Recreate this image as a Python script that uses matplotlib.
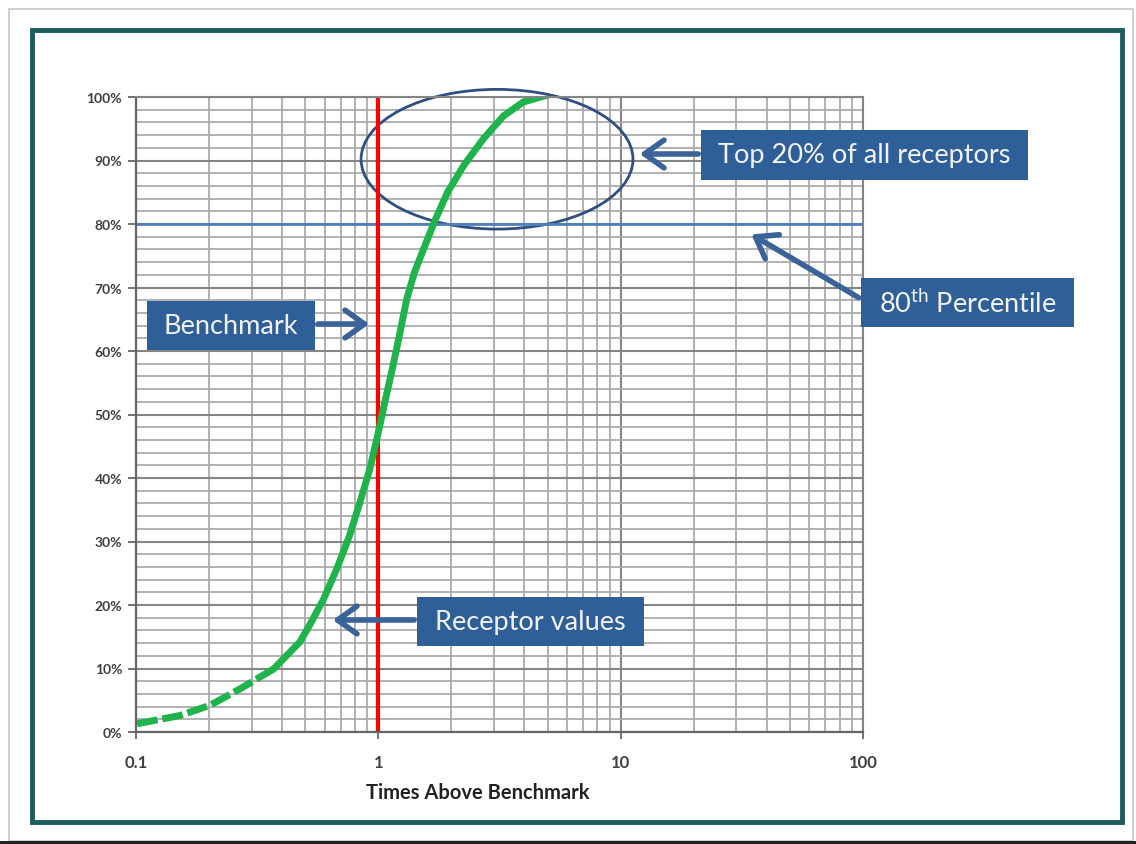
import numpy as np
import matplotlib.pyplot as plt
from matplotlib.patches import Rectangle, Ellipse, FancyArrowPatch
from matplotlib.ticker import FixedLocator, NullFormatter, LogLocator

plt.rcParams['mathtext.fontset'] = 'custom'
plt.rcParams['mathtext.rm'] = 'Lato'

# receptor values: times above benchmark vs cumulative percent
times_above = [0.101, 0.152, 0.202, 0.269, 0.369, 0.475, 0.52, 0.594, 0.674,
               0.76, 0.84, 0.922, 1.0, 1.07, 1.15, 1.23, 1.31, 1.41, 1.535,
               1.71, 1.93, 2.25, 2.71, 3.28, 3.96, 4.98]
percent = [1.3, 2.6, 4.2, 6.8, 9.9, 14.2, 16.8, 20.9, 25.7,
           30.9, 36.2, 41.4, 47.2, 52.4, 57.7, 63, 68.2, 72.4, 76,
           80.5, 85, 89.2, 93.4, 97, 99.2, 100.3]
n_dashed = 4  # low tail is drawn with visible gaps

benchmark = 1.0
percentile_80 = 80
y_ticks = [0, 10, 20, 30, 40, 50, 60, 70, 80, 90, 100]
x_ticks = [0.1, 1, 10, 100]
x_ticklabels = ['0.1', '1', '10', '100']

W, H = 1136, 845


def px(x, y):
    # pixel position (from top-left) -> figure fraction
    return x / W, 1 - y / H


fig = plt.figure(figsize=(W / 100, H / 100), dpi=100)
fig.patch.set_facecolor('white')

# picture frame
fig.patches.append(Rectangle(px(9, 842), 1124 / W, 832 / H, transform=fig.transFigure,
                             fill=False, edgecolor='#c8c8c8', lw=1.2))
fig.patches.append(Rectangle(px(32, 823), 1090 / W, 792 / H, transform=fig.transFigure,
                             fill=False, edgecolor='#1d5c5c', lw=3.5))
fig.patches.append(Rectangle((0, 0), 1, 3 / H, transform=fig.transFigure,
                             facecolor='#222222', edgecolor='none'))

left, bottom = px(136, 733)
ax = fig.add_axes([left, bottom, (863 - 136) / W, (733 - 98) / H])
ax.set_xscale('log')
ax.set_xlim(0.1, 100)
ax.set_ylim(0, 100)

# grid
ax.yaxis.set_minor_locator(FixedLocator(np.arange(0, 101, 2)))
ax.xaxis.set_minor_locator(LogLocator(base=10, subs=np.arange(2, 10)))
ax.xaxis.set_minor_formatter(NullFormatter())
ax.grid(which='minor', color='#ababab', lw=1.3)
ax.grid(which='major', color='#858585', lw=1.5)
ax.set_axisbelow(True)
ax.tick_params(which='minor', length=0)

ax.set_yticks(y_ticks)
ax.set_yticklabels([f'{v}%' for v in y_ticks])
ax.set_xticks(x_ticks)
ax.set_xticklabels(x_ticklabels)
ax.tick_params(axis='y', which='major', length=6, width=1.3, color='#666666', pad=4,
               labelsize=10, labelcolor='#404040')
ax.tick_params(axis='x', which='major', length=5, width=1.3, color='#666666', pad=11,
               labelsize=12, labelcolor='#404040')
for lab in ax.get_yticklabels() + ax.get_xticklabels():
    lab.set_fontweight('bold')
    lab.set_family('Lato')

for s in ['left', 'bottom']:
    ax.spines[s].set_color('#666666')
    ax.spines[s].set_linewidth(1.6)
for s in ['top', 'right']:
    ax.spines[s].set_color('#858585')
    ax.spines[s].set_linewidth(1.5)

ax.set_xlabel('Times Above Benchmark', fontsize=14.5, fontweight='bold', family='Lato',
              color='#222222')
ax.xaxis.set_label_coords(0.47, -0.078)

# lines
ax.axhline(percentile_80, color='#4f7fbf', lw=2)
ax.axvline(benchmark, color='#ff0000', lw=3)
green = '#1fb34b'
ax.plot(times_above[:n_dashed + 1], percent[:n_dashed + 1], color=green, lw=5,
        dashes=(3, 0.7))
ax.plot(times_above[n_dashed:], percent[n_dashed:], color=green, lw=5,
        solid_capstyle='round', solid_joinstyle='round')

# ellipse around top 20%
ax.add_patch(Ellipse((0.4966, 0.902), 0.374, 0.22, transform=ax.transAxes, fill=False,
                     edgecolor='#2f4f80', lw=2, clip_on=False))

box_color = '#2f5f98'
arrow_color = '#3a6499'


def label_box(x0, y0, x1, y1, text, size=19.5):
    fig.patches.append(Rectangle(px(x0, y1), (x1 - x0) / W, (y1 - y0) / H,
                                 transform=fig.transFigure, facecolor=box_color,
                                 edgecolor='none'))
    cx, cy = px((x0 + x1) / 2, (y0 + y1) / 2)
    fig.text(cx, cy, text, ha='center', va='center', color='#f2f2f2', fontsize=size,
             family='Lato')


def arrow(x0, y0, x1, y1):
    fig.patches.append(FancyArrowPatch(px(x0, y0), px(x1, y1), transform=fig.transFigure,
                                       arrowstyle='->,head_length=0.7,head_width=0.5',
                                       color=arrow_color, lw=4, mutation_scale=20))


label_box(701, 131, 1028, 181, 'Top 20% of all receptors')
arrow(701, 155, 637, 155)
label_box(861, 279, 1074, 328, '80$^{\\mathrm{th}}$ Percentile')
arrow(861, 300, 749, 234)
label_box(147, 302, 315, 351, 'Benchmark')
arrow(315, 325, 372, 325)
label_box(417, 598, 644, 647, 'Receptor values')
arrow(417, 621, 330, 621)

fig.savefig('out.png', dpi=100)
